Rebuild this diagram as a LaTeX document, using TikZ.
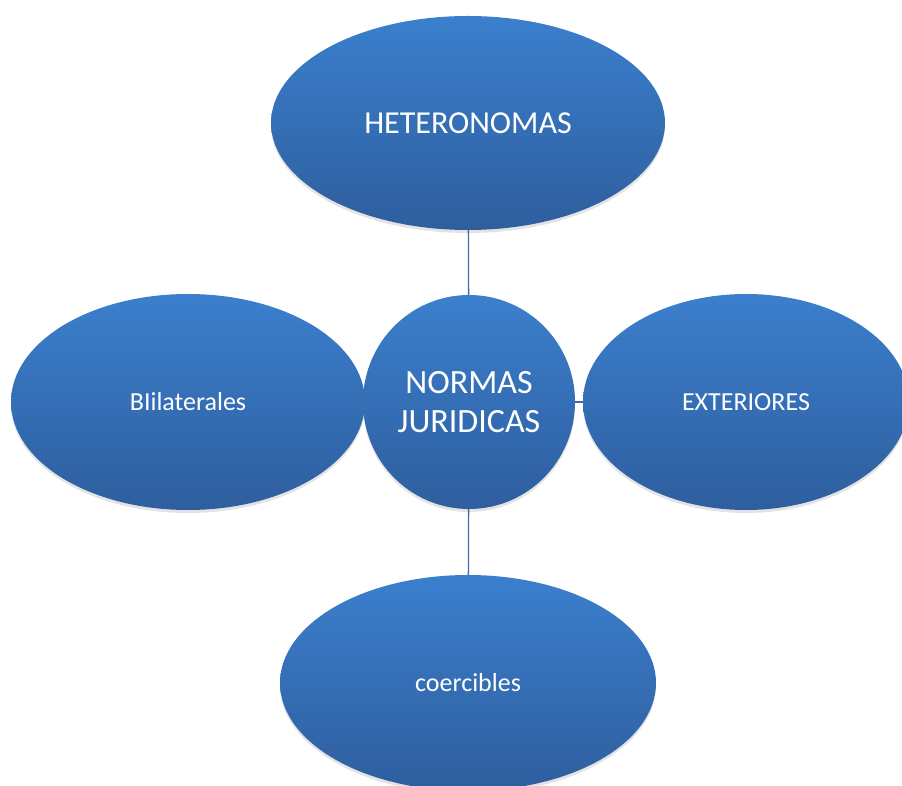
\documentclass[tikz,border=0pt]{standalone}
\usepackage{fontspec}
\setmainfont{Carlito}
\usetikzlibrary{shapes.geometric,shadows}

\definecolor{bubbletop}{RGB}{59,127,205}
\definecolor{bubblebottom}{RGB}{46,94,158}
\definecolor{linkblue}{RGB}{68,108,162}

\begin{document}
\begin{tikzpicture}[x=1pt,y=1pt,
    bubble/.style={ellipse, inner sep=0pt, draw=none, top color=bubbletop, bottom color=bubblebottom,
        text=white, align=center, font=\fontsize{26}{31}\selectfont,
        drop shadow={shadow xshift=0pt, shadow yshift=-3pt, opacity=0.22}},
    bigtext/.style={font=\fontsize{32}{39}\selectfont},
    link/.style={draw=linkblue, line width=1.3pt}]

    % Picture size (one unit = one pixel of the reference)
    \def\w{902}
    \def\h{785}
    \useasboundingbox (0,0) rectangle (\w,\h);
    \clip (0,0) rectangle (\w,\h);

    % --- Center bubble ---
    \node[bubble, font=\fontsize{34}{39}\selectfont, minimum width=212pt, minimum height=214pt] (normas) at (469,383) {NORMAS\\JURIDICAS};

    % --- Outer bubbles ---
    \node[bubble, bigtext, minimum width=394pt, minimum height=214pt] (hetero) at (468,662) {HETERONOMAS}; % top
    \node[bubble, minimum width=354pt, minimum height=216pt] (bilat) at (188,383) {BIilaterales}; % left
    \node[bubble, minimum width=326pt, minimum height=216pt] (exter) at (746,383) {EXTERIORES}; % right
    \node[bubble, minimum width=376pt, minimum height=216pt] (coerc) at (468,102) {coercibles}; % bottom

    % Connectors from the center
    \draw[link] (hetero) -- (normas);
    \draw[link] (normas) -- (coerc);
    \draw[link] (normas) -- (exter);
    \draw[link] (normas) -- (bilat);

\end{tikzpicture}
\end{document}
